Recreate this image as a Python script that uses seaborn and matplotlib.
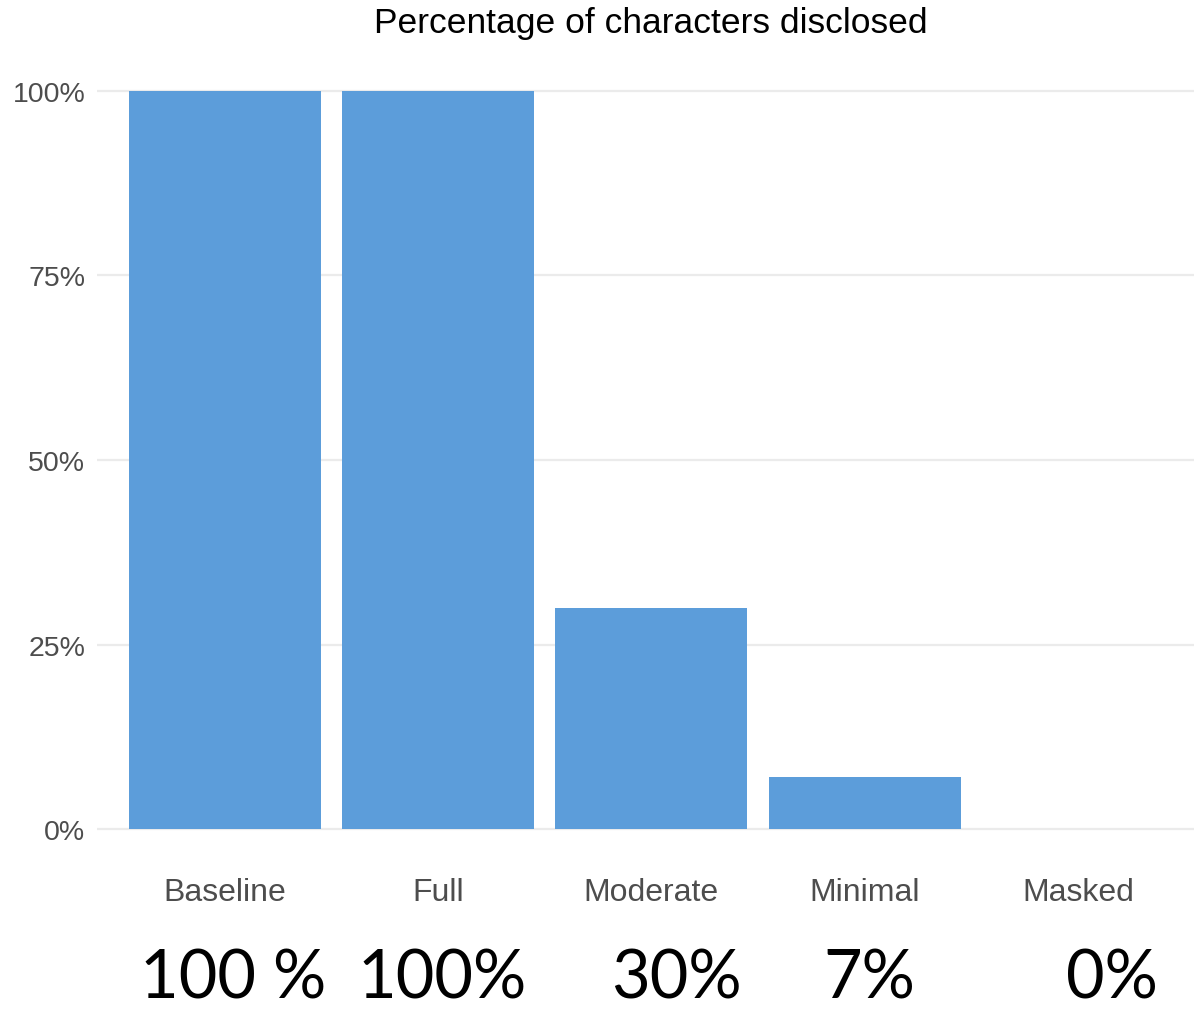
import matplotlib
matplotlib.use("Agg")
import matplotlib.pyplot as plt
import matplotlib.transforms as mtransforms
import seaborn as sns
import pandas as pd

# Disclosure levels and the share of characters disclosed at each level
levels = ["Baseline", "Full", "Moderate", "Minimal", "Masked"]
disclosed_pct = [100, 100, 30, 7, 0]
value_labels = ["100 %", "100%", "30%", "7%", "0%"]
y_ticks = [0, 25, 50, 75, 100]
y_tick_labels = ["0%", "25%", "50%", "75%", "100%"]

df = pd.DataFrame({"level": levels, "pct": disclosed_pct})

sns.set_theme(style="white")
plt.rcParams["font.family"] = ["Liberation Sans", "DejaVu Sans"]

W, H = 1194, 1012
fig = plt.figure(figsize=(W / 100, H / 100), dpi=100)
# plot panel (pixel geometry converted to figure fractions)
left_px, right_px, top_px, bottom_px = 96.5, 1206, 55, 867
ax = fig.add_axes([left_px / W, (H - bottom_px) / H,
                   (right_px - left_px) / W, (bottom_px - top_px) / H])

sns.barplot(data=df, x="level", y="pct", color="#5C9DDA", saturation=1,
            width=0.9, linewidth=0, ax=ax, zorder=2)

ax.set_xlim(-0.6, len(levels) - 0.4)
ax.set_ylim(-5, 105)
ax.set_yticks(y_ticks)
ax.set_yticklabels(y_tick_labels)
ax.yaxis.grid(True, color="#EBEBEB", linewidth=1.6, zorder=0)
ax.xaxis.grid(False)
ax.set_axisbelow(True)
for s in ax.spines.values():
    s.set_visible(False)
ax.tick_params(axis="both", length=0, labelcolor="#4D4D4D")
ax.tick_params(axis="y", labelsize=20.5, pad=8)
ax.tick_params(axis="x", labelsize=23, pad=8)
ax.set_xlabel("")
ax.set_ylabel("")

fig.text((left_px + right_px) / 2 / W, 1 - 24 / H,
         "Percentage of characters disclosed",
         ha="center", va="center", fontsize=25.5, color="black")

# large value captions below the category names
label_shift = [0.04, 0.02, 0.12, 0.02, 0.16]
trans = mtransforms.blended_transform_factory(ax.transData, fig.transFigure)
for i, txt in enumerate(value_labels):
    ax.text(i + label_shift[i], 1 - 999 / H, txt, transform=trans,
            ha="center", va="baseline", fontsize=48, color="black",
            family=["Lato", "DejaVu Sans"], clip_on=False)

fig.savefig("out.png", dpi=100, facecolor="white")
